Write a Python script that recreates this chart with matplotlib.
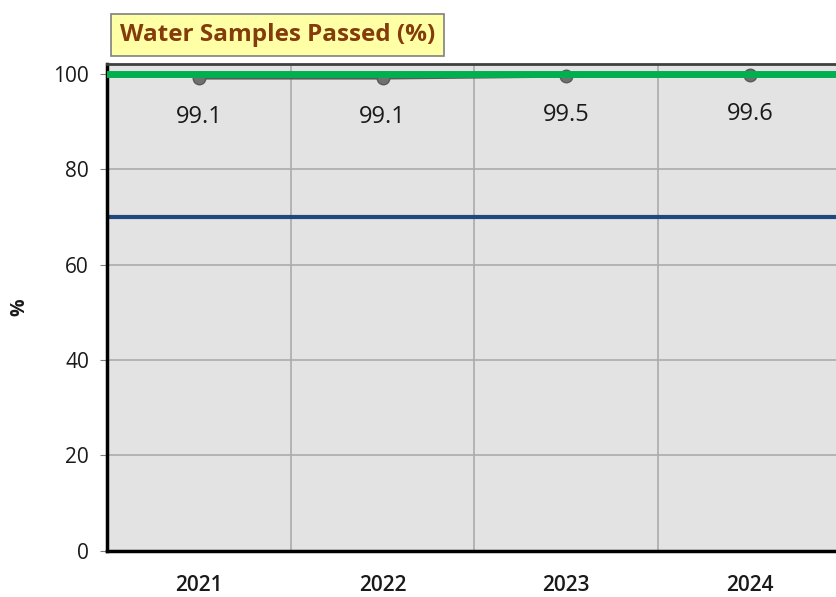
import matplotlib.pyplot as plt

years = ["2021", "2022", "2023", "2024"]
passed = [99.1, 99.1, 99.5, 99.6]
target = 100
threshold = 70
yticks = [0, 20, 40, 60, 80, 100]

plt.rcParams["font.family"] = ["Open Sans", "DejaVu Sans"]

fig = plt.figure(figsize=(8.36, 5.97), dpi=100)
ax = fig.add_axes([0.128, 0.0771, 0.879, 0.8157])
ax.set_facecolor("#E3E3E3")

x = list(range(len(years)))
ax.set_xlim(-0.5, len(years) - 0.5)
ax.set_ylim(0, 102)

# grid
for yt in yticks[1:]:
    ax.axhline(yt, color="#ABABAB", lw=1.2, zorder=1)
for b in range(1, len(years)):
    ax.axvline(b - 0.5, color="#ABABAB", lw=1.2, zorder=1)

ax.axhline(threshold, color="#1F497D", lw=3, zorder=2)
ax.plot(x, passed, color="#595959", lw=2.5, marker="o", ms=9,
        markerfacecolor="#707070", markeredgecolor="#595959", zorder=3)
ax.axhline(target, color="#00B050", lw=5, zorder=4)

for xi, v in zip(x, passed):
    ax.annotate(f"{v}", (xi, v), xytext=(0, -28), textcoords="offset points",
                ha="center", va="center", fontsize=17, color="#1A1A1A")

ax.set_yticks(yticks)
ax.set_yticklabels([str(t) for t in yticks], fontsize=15, color="#1A1A1A")
ax.set_xticks(x)
ax.set_xticklabels(years, fontsize=15, fontweight="semibold", color="#1A1A1A")
ax.tick_params(axis="x", length=0, pad=17)
ax.tick_params(axis="y", length=5, color="#808080", pad=8)

ax.spines["left"].set_linewidth(2.5)
ax.spines["bottom"].set_linewidth(2.5)
ax.spines["left"].set_color("black")
ax.spines["bottom"].set_color("black")
ax.spines["top"].set_color("#404040")
ax.spines["top"].set_linewidth(2)
ax.spines["right"].set_visible(False)

fig.text(19 / 836, 1 - 307 / 597, "%", rotation=90, ha="center", va="center",
         fontsize=14, fontweight="bold", color="#1A1A1A")

fig.text(0.332, 0.941, "Water Samples Passed (%)", ha="center", va="center",
         fontsize=17.5, fontweight="bold", color="#843C0C",
         bbox=dict(boxstyle="square,pad=0.36", facecolor="#FFFFA6",
                   edgecolor="#808080", lw=1.2))

fig.savefig("out.png", dpi=100)
